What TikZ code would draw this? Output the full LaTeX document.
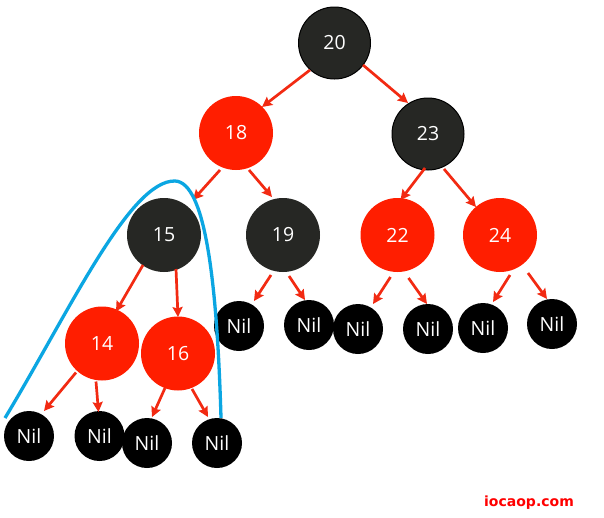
\documentclass[tikz,border=0pt]{standalone}
\usepackage{fontspec}
\setmainfont{Open Sans}
\newfontfamily\wmfont{DejaVu Sans}
\usetikzlibrary{calc,arrows.meta}
\definecolor{darknode}{HTML}{262724}
\definecolor{rednode}{HTML}{FF1E00}
\definecolor{edgered}{HTML}{F22A12}
\definecolor{bluecurve}{HTML}{0BA6E2}
\tikzset{
  blacknode/.style={circle,fill=darknode,draw=none,minimum size=74pt,inner sep=0pt,text=white,font=\fontsize{19.5}{21}\selectfont},
  blackring/.style={blacknode,draw=black,line width=1pt,minimum size=72pt},
  rednd/.style={circle,fill=rednode,draw=none,minimum size=74pt,inner sep=0pt,text=white,font=\fontsize{19.5}{21}\selectfont},
  nilnode/.style={circle,fill=black,draw=none,minimum size=50pt,inner sep=0pt,text=white,font=\fontsize{19.5}{21}\selectfont},
  edgearrow/.style={draw=edgered,line width=2.7pt,-{Stealth[length=10pt,width=10pt,inset=1.5pt]}},
  bluearc/.style={draw=bluecurve,line width=3.3pt}
}
\begin{document}
\begin{tikzpicture}[x=1pt,y=-1pt]
\useasboundingbox (0,0) rectangle (604,517);
\fill[white] (0,0) rectangle (604,517);
\node[blackring] (n20) at (334.5,43) {20};
\node[rednd] (n18) at (236,133) {18};
\node[blackring] (n23) at (428,134) {23};
\node[blacknode] (n15) at (164,235) {15};
\node[blacknode] (n19) at (283,235) {19};
\node[rednd] (n22) at (397.5,235) {22};
\node[rednd] (n24) at (500,235) {24};
\node[rednd] (n14) at (102,343.5) {14};
\node[rednd] (n16) at (178,353.5) {16};
\node[nilnode] (a1) at (29,436) {Nil};
\node[nilnode] (a2) at (99.5,436) {Nil};
\node[nilnode] (a3) at (147,443) {Nil};
\node[nilnode] (a4) at (217,443) {Nil};
\node[nilnode] (b1) at (239,326) {Nil};
\node[nilnode] (b2) at (309,325) {Nil};
\node[nilnode] (c1) at (358,329) {Nil};
\node[nilnode] (c2) at (428,329) {Nil};
\node[nilnode] (d1) at (483,328) {Nil};
\node[nilnode] (d2) at (552,324) {Nil};
\node[text=red,font=\wmfont\bfseries\fontsize{14}{16}\selectfont] (wm) at (529,503) {iocaop.com};
\draw[edgearrow] ($(n20)+(-24.5,27)$) -- ($(n18)+(26,-26)$);
\draw[edgearrow] ($(n20)+(28.5,22)$) -- ($(n23)+(-20,-31)$);
\draw[edgearrow] ($(n23)+(-3,34)$) -- ($(n22)+(3,-35)$);
\draw[edgearrow] ($(n23)+(16,35)$) -- ($(n24)+(-24,-28)$);
\draw[edgearrow] ($(n18)+(-16,37)$) -- ($(n15)+(29,-35)$);
\draw[edgearrow] ($(n18)+(13,37)$) -- ($(n19)+(-11,-38)$);
\draw[edgearrow] ($(n15)+(-21,30)$) -- ($(n14)+(14,-32)$);
\draw[edgearrow] ($(n15)+(12,34)$) -- ($(n16)+(0,-36.5)$);
\draw[edgearrow] ($(n14)+(-26,29)$) -- ($(a1)+(15,-25)$);
\draw[edgearrow] ($(n14)+(-6,38)$) -- ($(a2)+(-1,-24)$);
\draw[edgearrow] ($(n16)+(-13,34.5)$) -- ($(a3)+(5,-26)$);
\draw[edgearrow] ($(n16)+(14,35.5)$) -- ($(a4)+(-9,-26)$);
\draw[edgearrow] ($(n19)+(-12,40)$) -- ($(b1)+(15,-25)$);
\draw[edgearrow] ($(n19)+(6,41)$) -- ($(b2)+(-4,-25)$);
\draw[edgearrow] ($(n22)+(-7,42)$) -- ($(c1)+(15,-25)$);
\draw[edgearrow] ($(n22)+(11,43)$) -- ($(c2)+(-1,-25)$);
\draw[edgearrow] ($(n24)+(10,40)$) -- ($(d1)+(10,-26)$);
\draw[edgearrow] ($(n24)+(28,38)$) -- ($(d2)+(-5,-25)$);
\coordinate (bstart) at (5,418);
\coordinate (btop) at (175,181);
\coordinate (bend) at ($(a4)+(4,-25)$);
\draw[bluearc] (bstart) .. controls (70,310) and (130,180) .. (btop) .. controls (205,182) and (217,280) .. (bend);
\end{tikzpicture}
\end{document}
